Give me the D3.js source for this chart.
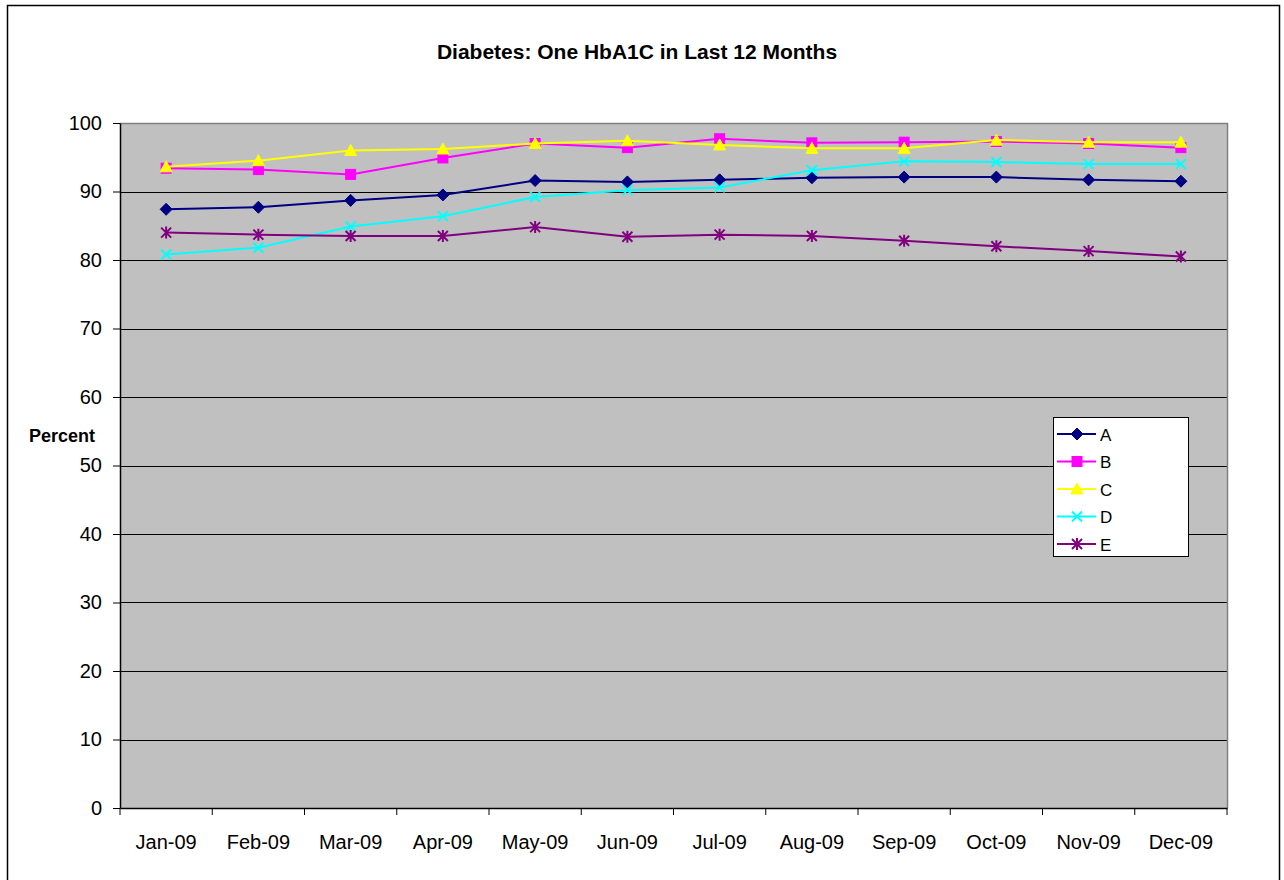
<!DOCTYPE html>
<html>
<head>
<meta charset="utf-8">
<script src="https://cdn.jsdelivr.net/npm/d3@7"></script>
<style>
  body { margin: 0; background: #fff; }
  svg { display: block; font-family: "Liberation Sans", Arial, sans-serif; }
</style>
</head>
<body>
<svg id="chart" width="1284" height="880"></svg>
<script>
const months = ["Jan-09", "Feb-09", "Mar-09", "Apr-09", "May-09", "Jun-09",
                "Jul-09", "Aug-09", "Sep-09", "Oct-09", "Nov-09", "Dec-09"];
const yTicks = [0, 10, 20, 30, 40, 50, 60, 70, 80, 90, 100];

const seriesA = [87.4, 87.7, 88.7, 89.5, 91.6, 91.4, 91.7, 92.0, 92.1, 92.1, 91.7, 91.5];
const seriesB = [93.4, 93.2, 92.5, 94.9, 97.0, 96.4, 97.7, 97.1, 97.2, 97.3, 97.0, 96.4];
const seriesC = [93.6, 94.5, 96.0, 96.2, 97.0, 97.4, 96.8, 96.3, 96.3, 97.5, 97.2, 97.2];
const seriesD = [80.8, 81.8, 84.9, 86.4, 89.2, 90.2, 90.6, 93.1, 94.4, 94.3, 94.0, 94.0];
const seriesE = [84.0, 83.7, 83.5, 83.5, 84.8, 83.4, 83.7, 83.5, 82.8, 82.0, 81.3, 80.5];

const series = [
    {name: "A", values: seriesA, color: "#000080", marker: "diamond"},
    {name: "B", values: seriesB, color: "#FF00FF", marker: "square"},
    {name: "C", values: seriesC, color: "#FFFF00", marker: "triangle"},
    {name: "D", values: seriesD, color: "#00FFFF", marker: "x"},
    {name: "E", values: seriesE, color: "#800080", marker: "star"}
];

const plot = {left: 120, right: 1227, top: 123, bottom: 808};

const svg = d3.select("#chart");

// outer frame
svg.append("rect")
    .attr("x", 7.5).attr("y", 5.5)
    .attr("width", 1272).attr("height", 880)
    .attr("fill", "#fff")
    .attr("stroke", "#000")
    .attr("stroke-width", 1.5);

const x = d3.scaleBand()
    .domain(months)
    .range([plot.left, plot.right]);

const y = d3.scaleLinear()
    .domain([0, 100])
    .range([plot.bottom, plot.top]);

// plot background
svg.append("rect")
    .attr("x", plot.left).attr("y", plot.top)
    .attr("width", plot.right - plot.left)
    .attr("height", plot.bottom - plot.top)
    .attr("fill", "#C0C0C0");

// gridlines
svg.append("g")
    .selectAll("line")
    .data(yTicks.filter(d => d > 0 && d < 100))
    .join("line")
    .attr("x1", plot.left).attr("x2", plot.right)
    .attr("y1", d => Math.round(y(d)) + 0.5)
    .attr("y2", d => Math.round(y(d)) + 0.5)
    .attr("stroke", "#000")
    .attr("stroke-width", 1);

// plot border (top / right)
svg.append("path")
    .attr("d", `M${plot.left},${plot.top + 0.5}H${plot.right + 0.5}V${plot.bottom}`)
    .attr("fill", "none")
    .attr("stroke", "#808080")
    .attr("stroke-width", 1.5);

// y axis
const yAxis = svg.append("g")
    .attr("transform", `translate(${plot.left},0)`)
    .call(d3.axisLeft(y).tickValues(yTicks).tickSize(7).tickPadding(11).tickSizeOuter(0));
yAxis.select(".domain").attr("stroke", "#000").attr("stroke-width", 1.5);
yAxis.selectAll("line").attr("stroke", "#000");
yAxis.selectAll("text")
    .attr("font-family", "Liberation Sans, Arial, sans-serif")
    .attr("font-size", 20)
    .attr("fill", "#000");

// x axis
const xAxis = svg.append("g")
    .attr("transform", `translate(0,${plot.bottom})`)
    .call(d3.axisBottom(x).tickSize(0).tickPadding(27));
xAxis.select(".domain").attr("stroke", "#000").attr("stroke-width", 1.5);
xAxis.selectAll("text")
    .attr("font-family", "Liberation Sans, Arial, sans-serif")
    .attr("font-size", 20)
    .attr("fill", "#000");
svg.append("g")
    .selectAll("line")
    .data(months.concat(["end"]))
    .join("line")
    .attr("x1", (d, i) => plot.left + i * x.step())
    .attr("x2", (d, i) => plot.left + i * x.step())
    .attr("y1", plot.bottom)
    .attr("y2", plot.bottom + 7)
    .attr("stroke", "#000");

// title and axis label
svg.append("text")
    .attr("x", 637).attr("y", 59)
    .attr("text-anchor", "middle")
    .attr("font-weight", "bold")
    .attr("font-size", 21)
    .text("Diabetes: One HbA1C in Last 12 Months");

svg.append("text")
    .attr("x", 62).attr("y", 442)
    .attr("text-anchor", "middle")
    .attr("font-weight", "bold")
    .attr("font-size", 18)
    .text("Percent");

const drawMarker = (g, type, color) => {
    if (type === "diamond") {
        g.append("path").attr("d", "M0,-6L6,0L0,6L-6,0Z")
            .attr("fill", color).attr("stroke", color);
    } else if (type === "square") {
        g.append("rect").attr("x", -5).attr("y", -5).attr("width", 10).attr("height", 10)
            .attr("fill", color).attr("stroke", color);
    } else if (type === "triangle") {
        g.append("path").attr("d", "M0,-6L6,5L-6,5Z")
            .attr("fill", color).attr("stroke", color);
    } else if (type === "x") {
        g.append("path").attr("d", "M-5,-5L5,5M5,-5L-5,5")
            .attr("stroke", color).attr("stroke-width", 2);
    } else if (type === "star") {
        g.append("path").attr("d", "M-5,-5L5,5M5,-5L-5,5M0,-6V6")
            .attr("stroke", color).attr("stroke-width", 2);
    }
};

const line = d3.line()
    .x((d, i) => x(months[i]) + x.bandwidth() / 2)
    .y(d => y(d));

series.forEach(s => {
    const g = svg.append("g");
    g.append("path")
        .datum(s.values)
        .attr("fill", "none")
        .attr("stroke", s.color)
        .attr("stroke-width", 2)
        .attr("d", line);
    s.values.forEach((v, i) => {
        const m = g.append("g")
            .attr("transform", `translate(${x(months[i]) + x.bandwidth() / 2},${y(v)})`);
        drawMarker(m, s.marker, s.color);
    });
});

// legend
const legend = svg.append("g").attr("transform", "translate(1053,417)");
legend.append("rect")
    .attr("x", 0.5).attr("y", 0.5)
    .attr("width", 135).attr("height", 139)
    .attr("fill", "#fff")
    .attr("stroke", "#000");
series.forEach((s, i) => {
    const row = legend.append("g").attr("transform", `translate(0,${17 + i * 27.5})`);
    row.append("line")
        .attr("x1", 4).attr("x2", 43)
        .attr("stroke", s.color)
        .attr("stroke-width", 2);
    const m = row.append("g").attr("transform", "translate(24,0)");
    drawMarker(m, s.marker, s.color);
    row.append("text")
        .attr("x", 47).attr("y", 6.5)
        .attr("font-size", 17)
        .text(s.name);
});
</script>
</body>
</html>
